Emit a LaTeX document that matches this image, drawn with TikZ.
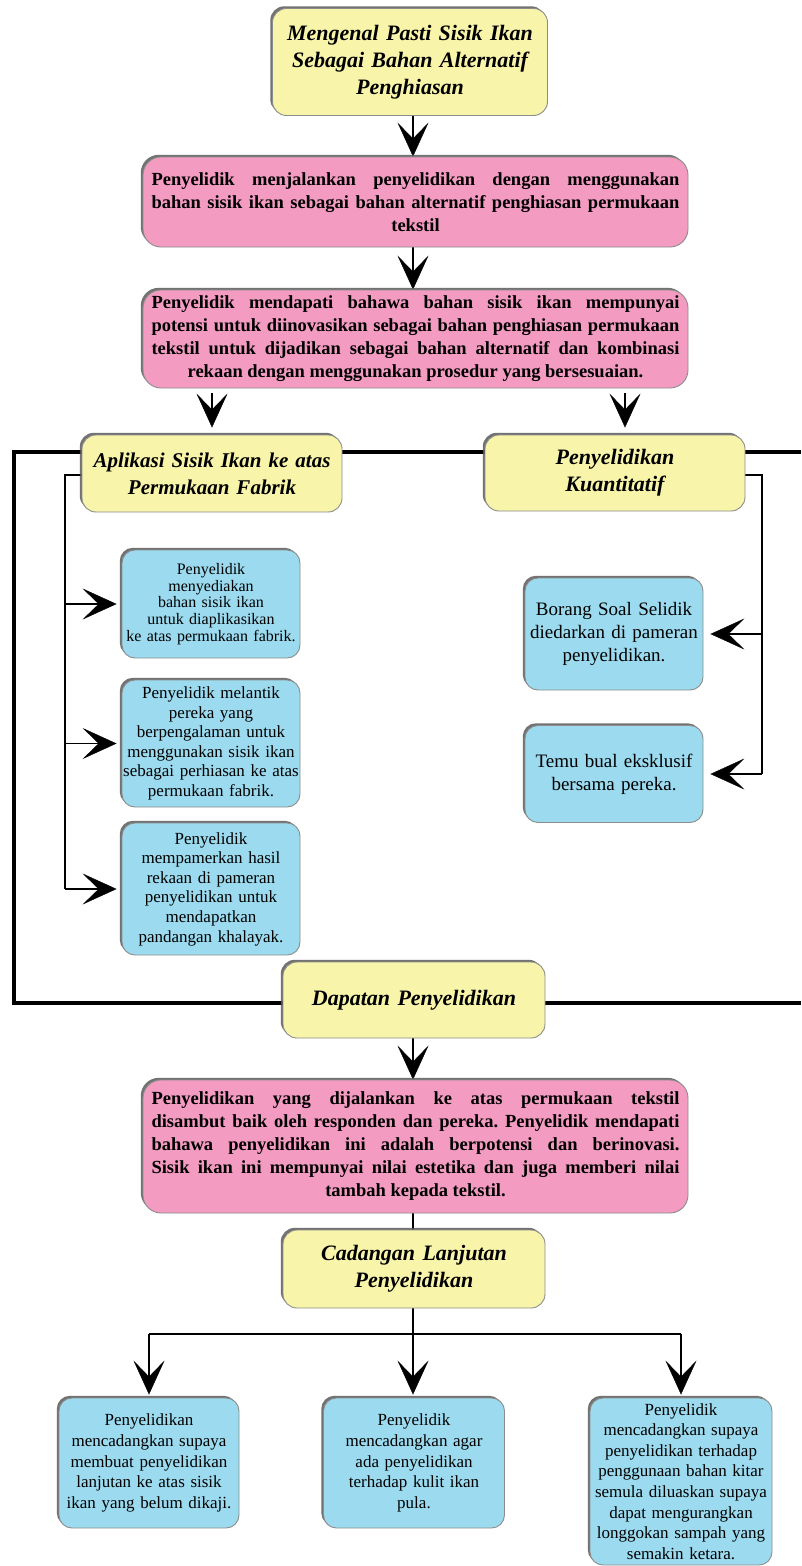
\documentclass[tikz,border=0pt]{standalone}
\usepackage{fontspec}
\setmainfont{Liberation Serif}
\usetikzlibrary{arrows.meta,shadows,backgrounds}
\frenchspacing

\definecolor{ttlfill}{HTML}{F8F4AA}
\definecolor{pinkfill}{HTML}{F39BC1}
\definecolor{bluefill}{HTML}{9CDBEF}
\definecolor{edgegray}{HTML}{8C8C8C}
\definecolor{shadegray}{HTML}{5A5A5A}

% justified paragraph whose last line is centred
\newcommand\justcentre[1]{\noindent\leftskip=0pt plus .5fil\relax
  \rightskip=0pt plus -.5fil\relax\parfillskip=0pt plus 1fil\relax #1\par}

\tikzset{
  boxbase/.style={rectangle, inner sep=0pt, draw=edgegray, line width=0.9pt,
    drop shadow={shadow xshift=-2.2pt, shadow yshift=2.2pt, fill=shadegray, opacity=0.85}},
  titlebox/.style={boxbase, fill=ttlfill, rounded corners=14pt, align=center,
    text width=#1, font=\bfseries\itshape\fontsize{22}{27}\selectfont},
  notebox/.style={boxbase, fill=pinkfill, rounded corners=18pt, align=justify,
    text width=528pt, minimum width=545pt, font=\bfseries\fontsize{18.5}{23}\selectfont},
  infobox/.style={boxbase, fill=bluefill, rounded corners=13pt, align=center},
  bigtip/.style={-{Stealth[length=34pt,width=31pt,inset=16pt,line width=0.4pt]}},
  mainarr/.style={bigtip, line width=2.4pt},
  link/.style={line width=1.8pt},
  framepath/.style={line width=3.4pt}
}

\begin{document}
\begin{tikzpicture}[x=1pt,y=-1pt]
\useasboundingbox (0,0) rectangle (801,1566);

% ---- boxes ----
\node[titlebox=255pt, minimum width=275pt, minimum height=107pt] (top) at (410,62)
  {Mengenal Pasti Sisik Ikan\\Sebagai Bahan Alternatif\\Penghiasan};

\node[notebox, minimum height=90pt] (p1) at (415.5,202) {\justcentre{%
  Penyelidik menjalankan penyelidikan dengan menggunakan \linebreak
  bahan sisik ikan sebagai bahan alternatif penghiasan permukaan \linebreak
  tekstil}};

\node[notebox, minimum height=98pt] (p2) at (415.5,339) {\justcentre{%
  Penyelidik mendapati bahawa bahan sisik ikan mempunyai \linebreak
  potensi untuk diinovasikan sebagai bahan penghiasan permukaan \linebreak
  tekstil untuk dijadikan sebagai bahan alternatif dan kombinasi \linebreak
  rekaan dengan menggunakan prosedur yang bersesuaian.}};

\node[titlebox=255pt, minimum width=260pt, minimum height=77pt,
  font=\bfseries\itshape\fontsize{21}{27}\selectfont] (apl) at (212,473.5)
  {Aplikasi Sisik Ikan ke atas\\Permukaan Fabrik};
\node[titlebox=255pt, minimum width=260pt, minimum height=76pt] (kua) at (615,473)
  {Penyelidikan\\Kuantitatif};

\node[infobox, text width=176pt, minimum width=178pt, minimum height=108pt,
  font=\fontsize{16}{16.8}\selectfont] (l1) at (211,604)
  {Penyelidik\\menyediakan\\bahan sisik ikan\\untuk diaplikasikan\\ke atas permukaan fabrik.};
\node[infobox, text width=176pt, minimum width=178pt, minimum height=127pt,
  font=\fontsize{17}{19.6}\selectfont] (l2) at (211,743.5)
  {Penyelidik melantik\\pereka yang\\berpengalaman untuk\\menggunakan sisik ikan\\sebagai perhiasan ke atas\\permukaan fabrik.};
\node[infobox, text width=176pt, minimum width=178pt, minimum height=132pt,
  font=\fontsize{17}{19.6}\selectfont] (l3) at (211,889)
  {Penyelidik\\mempamerkan hasil\\rekaan di pameran\\penyelidikan untuk\\mendapatkan\\pandangan khalayak.};

\node[infobox, text width=176pt, minimum width=178pt, minimum height=112pt,
  font=\fontsize{19}{23}\selectfont] (r1) at (614,634)
  {Borang Soal Selidik\\diedarkan di pameran\\penyelidikan.};
\node[infobox, text width=176pt, minimum width=178pt, minimum height=97pt,
  font=\fontsize{19}{23}\selectfont] (r2) at (614,774)
  {Temu bual eksklusif\\bersama pereka.};

\node[titlebox=255pt, minimum width=262pt, minimum height=76pt] (dap) at (414,1000)
  {Dapatan Penyelidikan};

\node[notebox, minimum height=133pt] (p3) at (415.5,1146.5) {\justcentre{%
  Penyelidikan yang dijalankan ke atas permukaan tekstil \linebreak
  disambut baik oleh responden dan pereka. Penyelidik mendapati \linebreak
  bahawa penyelidikan ini adalah berpotensi dan berinovasi. \linebreak
  Sisik ikan ini mempunyai nilai estetika dan juga memberi nilai \linebreak
  tambah kepada tekstil.}};

\node[titlebox=255pt, minimum width=262pt, minimum height=78pt] (cad) at (414,1269)
  {Cadangan Lanjutan\\Penyelidikan};

\node[infobox, text width=178pt, minimum width=180pt, minimum height=130pt,
  font=\fontsize{17}{20.6}\selectfont] (b1) at (149,1463)
  {Penyelidikan\\mencadangkan supaya\\membuat penyelidikan\\lanjutan ke atas sisik\\ikan yang belum dikaji.};
\node[infobox, text width=178pt, minimum width=181pt, minimum height=130pt,
  font=\fontsize{17}{20.6}\selectfont] (b2) at (414,1463)
  {Penyelidik\\mencadangkan agar\\ada penyelidikan\\terhadap kulit ikan\\pula.};
\node[infobox, text width=180pt, minimum width=182pt, minimum height=167pt,
  font=\fontsize{17}{20.6}\selectfont] (b3) at (681,1481.5)
  {Penyelidik\\mencadangkan supaya\\penyelidikan terhadap\\penggunaan bahan kitar\\semula diluaskan supaya\\dapat mengurangkan\\longgokan sampah yang\\semakin ketara.};

% ---- guide points ----
\coordinate (cx) at (413,0);
\coordinate (ka) at (625,0);
\coordinate (fa) at (14,452);
\coordinate (fb) at (14,1003);
\coordinate (fra) at (801,452);
\coordinate (frb) at (801,1003);
\coordinate (lk) at (65,475);
\coordinate (rk) at (762,475);
\coordinate (split) at (413,1334);

\begin{scope}[on background layer]
  \fill[white] (0,0) rectangle (801,1566);

  % main column
  \draw[mainarr] (top.south -| cx) -- (p1.north -| cx);
  \draw[mainarr] (p1.south -| cx) -- (p2.north -| cx);
  \draw[mainarr, shorten <=5pt, shorten >=7pt] (p2.south -| apl.north) -- (apl.north);
  \draw[mainarr, shorten <=5pt, shorten >=7pt] (p2.south -| ka) -- (kua.north -| ka);

  % outer frame
  \draw[framepath] (apl.west |- fa) -- (fa) -- (fb) -- (dap.west |- fb);
  \draw[framepath] (apl.east |- fa) -- (kua.west |- fa);
  \draw[framepath] (kua.east |- fa) -- (fra);
  \draw[framepath] (dap.east |- fb) -- (frb);

  % left branch
  \draw[link] (apl.west |- lk) -- (lk) -- (lk |- l3.west);
  \draw[link, bigtip, shorten >=5pt] (lk |- l1.west) -- (l1.west);
  \draw[link, bigtip, shorten >=5pt] (lk |- l2.west) -- (l2.west);
  \draw[link, bigtip, shorten >=5pt] (lk |- l3.west) -- (l3.west);

  % right branch
  \draw[link] (kua.east |- rk) -- (rk) -- (rk |- r2.east);
  \draw[link, bigtip, shorten >=7pt] (rk |- r1.east) -- (r1.east);
  \draw[link, bigtip, shorten >=7pt] (rk |- r2.east) -- (r2.east);

  % lower column
  \draw[mainarr] (dap.south -| cx) -- (p3.north -| cx);
  \draw[link, line width=2pt] (p3.south -| cx) -- (cad.north -| cx);
  \draw[link] (cad.south -| cx) -- (split);
  \draw[link] (b1.north |- split) -- (b3.north |- split);
  \draw[link, bigtip, shorten >=3pt] (b1.north |- split) -- (b1.north);
  \draw[link, bigtip, shorten >=3pt] (split) -- (b2.north -| split);
  \draw[link, bigtip, shorten >=3pt] (b3.north |- split) -- (b3.north);
\end{scope}
\end{tikzpicture}
\end{document}
